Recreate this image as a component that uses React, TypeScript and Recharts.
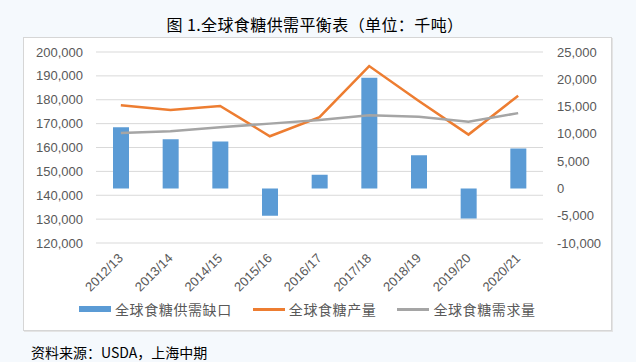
import React from 'react';
import {
  ComposedChart,
  Bar,
  Line,
  XAxis,
  YAxis,
  CartesianGrid,
  Legend,
} from 'recharts';

const categories = ['2012/13', '2013/14', '2014/15', '2015/16', '2016/17', '2017/18', '2018/19', '2019/20', '2020/21'];
const gapValues = [11200, 9000, 8600, -5000, 2500, 20300, 6100, -5500, 7300];
const productionValues = [177700, 175700, 177400, 164700, 172700, 194100, 179500, 165400, 181700];
const demandValues = [166100, 166800, 168500, 170000, 171500, 173500, 172900, 170800, 174400];

const leftTicks = [120000, 130000, 140000, 150000, 160000, 170000, 180000, 190000, 200000];
const rightTicks = [-10000, -5000, 0, 5000, 10000, 15000, 20000, 25000];

const seriesNames = ['全球食糖供需缺口', '全球食糖产量', '全球食糖需求量'];
const titleText = '图 1.全球食糖供需平衡表（单位：千吨）';
const sourceText = '资料来源：USDA，上海中期';

const data = categories.map((c, i) => ({
  name: c,
  gap: gapValues[i],
  production: productionValues[i],
  demand: demandValues[i],
}));

const AXIS_FONT = '"Liberation Sans", Arial, sans-serif';
const CJK_FONT = '"Noto Sans CJK SC", "Noto Sans", sans-serif';
const fmt = (v: number) => v.toLocaleString('en-US');

const XTick = (props: any) => {
  const { x, y, payload } = props;
  const ax = x + 3;
  const ay = y + 16;
  return (
    <text
      x={ax}
      y={ay}
      transform={`rotate(-45, ${ax}, ${ay})`}
      textAnchor="end"
      fill="#595959"
      fontSize={13}
      fontFamily={AXIS_FONT}
    >
      {payload.value}
    </text>
  );
};

const LegendContent = (props: any) => {
  const items = [...(props.payload || [])].sort(
    (a: any, b: any) => seriesNames.indexOf(a.value) - seriesNames.indexOf(b.value)
  );
  return (
    <div
      style={{
        display: 'flex',
        alignItems: 'center',
        height: 16,
        paddingLeft: 56,
        fontFamily: CJK_FONT,
        fontSize: 14,
        color: '#595959',
        lineHeight: '16px',
      }}
    >
      {items.map((e: any, i: number) => (
        <div key={i} style={{ display: 'flex', alignItems: 'center', marginRight: 21 }}>
          <span
            style={{
              display: 'inline-block',
              width: 32,
              height: e.type === 'rect' ? 6 : 3,
              background: e.color,
              marginRight: 4,
            }}
          />
          <span style={{ letterSpacing: 0.6, whiteSpace: 'nowrap' }}>{e.value}</span>
        </div>
      ))}
    </div>
  );
};

export default function App() {
  return (
    <div
      style={{
        position: 'absolute',
        left: 0,
        top: 0,
        width: 636,
        height: 362,
        background: '#f5f9fd',
        overflow: 'hidden',
      }}
    >
      <div
        style={{
          position: 'absolute',
          left: 0,
          top: 14,
          width: 630,
          textAlign: 'center',
          fontFamily: CJK_FONT,
          fontSize: 16,
          lineHeight: '20px',
          color: '#000',
          letterSpacing: 0.4,
        }}
      >
        {titleText}
      </div>
      <div
        style={{
          position: 'absolute',
          left: 23,
          top: 37,
          width: 589,
          height: 294,
          background: '#ffffff',
          boxSizing: 'border-box',
          border: '1px solid #d6d6d6',
          boxShadow: '1px 1px 0 #e4e4e4',
        }}
      />
      <div style={{ position: 'absolute', left: 23, top: 37 }}>
        <ComposedChart
          width={589}
          height={294}
          data={data}
          margin={{ top: 15, right: 0, bottom: 14, left: 0 }}
        >
          <CartesianGrid yAxisId="left" vertical={false} stroke="#d9d9d9" strokeWidth={1} />
          <XAxis
            dataKey="name"
            axisLine={false}
            tickLine={false}
            tickSize={0}
            tickMargin={0}
            height={58}
            interval={0}
            tick={<XTick />}
          />
          <YAxis
            yAxisId="left"
            orientation="left"
            width={73}
            domain={[120000, 200000]}
            ticks={leftTicks}
            tickFormatter={fmt}
            axisLine={false}
            tickLine={false}
            tickSize={0}
            tickMargin={13}
            tick={{ fill: '#595959', fontSize: 13, fontFamily: AXIS_FONT }}
            allowDataOverflow
          />
          <YAxis
            yAxisId="right"
            orientation="right"
            width={69}
            domain={[-10000, 25000]}
            ticks={rightTicks}
            tickFormatter={fmt}
            axisLine={false}
            tickLine={false}
            tickSize={0}
            tickMargin={14}
            tick={{ fill: '#595959', fontSize: 13, fontFamily: AXIS_FONT }}
            allowDataOverflow
          />
          <Legend
            verticalAlign="bottom"
            align="left"
            content={<LegendContent />}
          />
          <Bar
            yAxisId="right"
            dataKey="gap"
            name={seriesNames[0]}
            fill="#5b9bd5"
            barSize={16}
            isAnimationActive={false}
            legendType="rect"
          />
          <Line
            yAxisId="left"
            dataKey="production"
            name={seriesNames[1]}
            stroke="#ed7d31"
            strokeWidth={2.5}
            dot={false}
            activeDot={false}
            type="linear"
            isAnimationActive={false}
            legendType="line"
          />
          <Line
            yAxisId="left"
            dataKey="demand"
            name={seriesNames[2]}
            stroke="#a5a5a5"
            strokeWidth={2.5}
            dot={false}
            activeDot={false}
            type="linear"
            isAnimationActive={false}
            legendType="line"
          />
        </ComposedChart>
      </div>
      <div
        style={{
          position: 'absolute',
          left: 31,
          top: 343,
          fontFamily: CJK_FONT,
          fontSize: 14,
          lineHeight: '18px',
          color: '#000',
          whiteSpace: 'nowrap',
        }}
      >
        {sourceText}
      </div>
    </div>
  );
}
